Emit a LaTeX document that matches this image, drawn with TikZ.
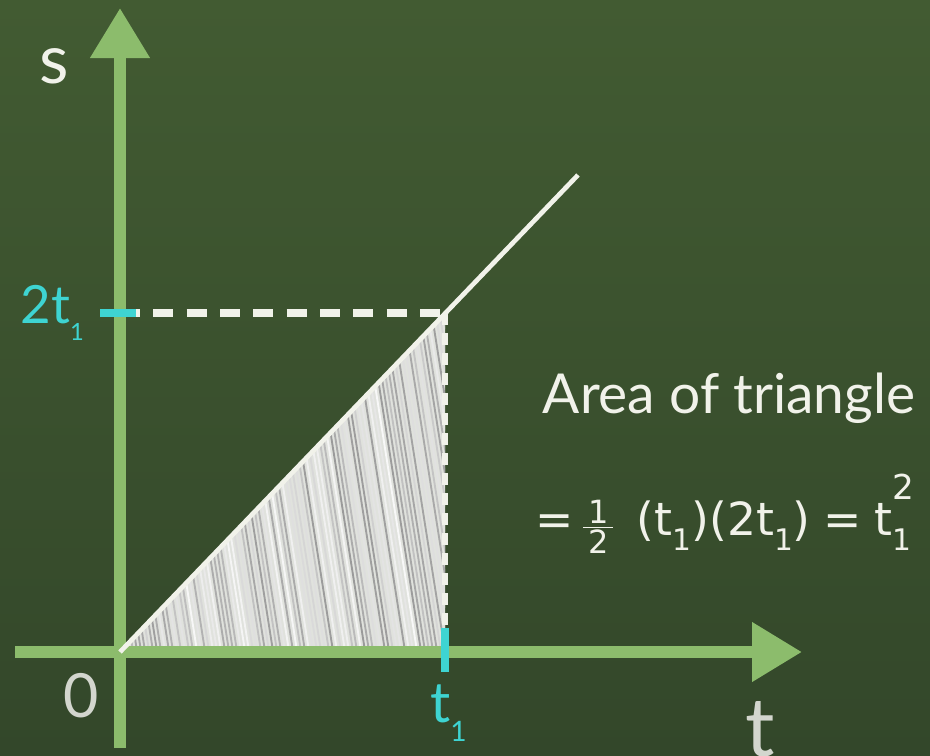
\documentclass[tikz,border=0pt]{standalone}
\usepackage{amsmath}
\usepackage{fontspec}
\setmainfont{Lato}
\newfontfamily\formfont{DejaVu Sans}
\usetikzlibrary{arrows.meta,positioning}
\definecolor{board}{HTML}{425B32}
\definecolor{boardlow}{HTML}{33472A}
\definecolor{axis}{HTML}{8CBC6C}
\definecolor{mark}{HTML}{3ED4D2}
\definecolor{chalk}{HTML}{F1F2EA}
\definecolor{dust}{HTML}{D3D6CE}
\newcommand{\lowi}[2][0.5]{\raisebox{-0.34em}{\scalebox{#1}{#2}}}
\newcommand{\highi}[2][0.6]{\raisebox{0.78em}{\scalebox{#1}{#2}}}
\begin{document}
\begin{tikzpicture}[x=0.03cm,y=-0.03cm,
 axisline/.style={draw=axis,line width=10pt,-{Triangle[length=1.5cm,width=1.7cm]}},
 guide/.style={draw=chalk,line width=6pt,dash pattern=on 0.6cm off 0.4cm},
 vguide/.style={draw=chalk,line width=5pt,dash pattern=on 0.36cm off 0.24cm},
 tickmark/.style={draw=mark,line width=7pt},
 lbl/.style={text=chalk,inner sep=0pt},
 val/.style={text=mark,inner sep=0pt}]
\useasboundingbox (0,0) rectangle (930,755);
\shade[top color=board,bottom color=boardlow] (0,0) rectangle (930,755);
\coordinate (O) at (120,652);
\coordinate (sTop) at (120,8);
\coordinate (sBot) at (120,748);
\coordinate (tLeft) at (15,652);
\coordinate (tEnd) at (802,652);
\coordinate (P) at (445,313);
\coordinate (lineEnd) at (578,175);
\coordinate (T1) at (445,652);
\coordinate (S1) at (120,313);
\begin{scope}
\clip (O) -- (P) -- (T1) -- cycle;
\fill[dust!70!white] (O) -- (P) -- (T1) -- cycle;
\pgfmathsetseed{7}
\foreach \i [evaluate=\i as \g using {20+75*rnd}] in {0,...,120}
  \draw[line width=1.6pt,white!\g!gray] (20+4*\i,290) -- (80+4*\i,670);
\end{scope}
\draw[axisline] (sBot) -- (sTop);
\draw[axisline] (tLeft) -- (tEnd);
\draw[guide] (S1) -- (P);
\draw[vguide] (P) -- (T1);
\draw[chalk,line width=4pt] (O) -- (lineEnd);
\draw[tickmark] (100,313) -- (136,313);
\draw[tickmark] (445,628) -- (445,672);
\node[lbl,anchor=base,font=\fontsize{58}{60}\selectfont] (sLab) at (54,83) {s};
\node[lbl,anchor=base,font=\fontsize{70}{72}\selectfont,text=dust] (tLab) at (760,756) {t};
\node[lbl,anchor=base,font=\fontsize{52}{56}\selectfont,text=dust] (zero) at (81,717) {0};
\node[val,anchor=base east,font=\fontsize{45}{50}\selectfont] (sVal) at (84,323) {2t\lowi[0.45]{1}};
\node[val,anchor=base west,font=\fontsize{48}{50}\selectfont] (tVal) at (430,722) {t\lowi{1}};
\node[lbl,anchor=base,font=\fontsize{47}{50}\selectfont] (title) at (729,413) {Area of triangle};
\node[lbl,anchor=base,font=\formfont\fontsize{39}{44}\selectfont] (formula) at (725,535)
 {=\,$\frac{\,\text{1}\,}{\,\text{2}\,}$\ \,(t\lowi[0.65]{1})(2t\lowi[0.65]{1})\;=\;t\rlap{\lowi[0.65]{1}}\highi[0.75]{2}};
\end{tikzpicture}
\end{document}
